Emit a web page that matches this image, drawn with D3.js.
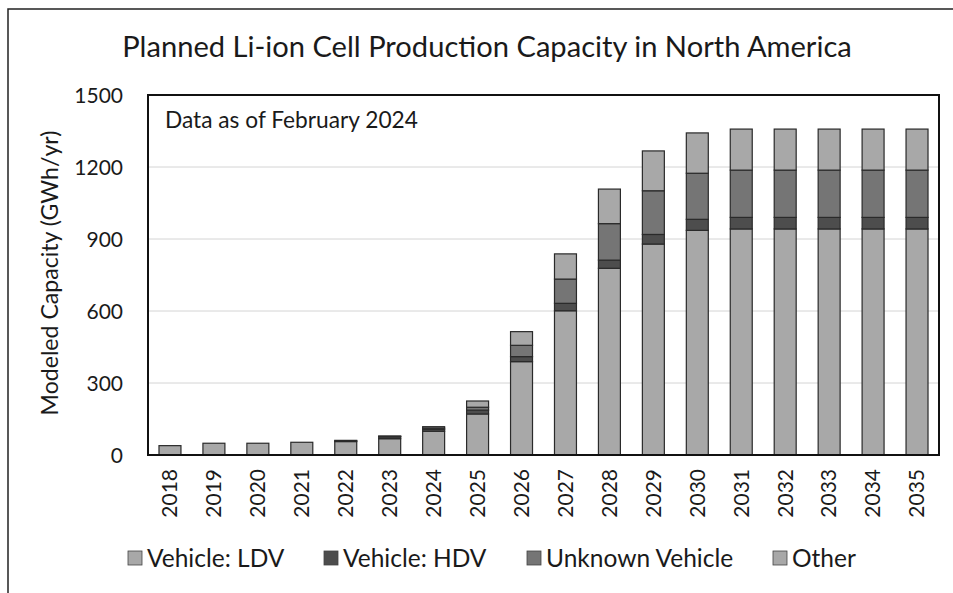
<!DOCTYPE html>
<html><head><meta charset="utf-8">
<script src="https://cdn.jsdelivr.net/npm/d3@7"></script>
<style>body{margin:0;background:#fff}svg{display:block}text{font-family:Lato,"Open Sans",sans-serif;fill:#1a1a1a}</style>
</head><body><svg id="c" width="953" height="593"></svg>
<script>
const years = ["2018","2019","2020","2021","2022","2023","2024","2025","2026","2027","2028","2029","2030","2031","2032","2033","2034","2035"];
const ldv     = [39,49,49,53,56,68,99,171,389,601,778,879,936,942,942,942,942,942];
const hdv     = [0,0,0,0,3,8,8,16,21,31,34,40,46,48,48,48,48,48];
const unknown = [0,0,0,0,0,2,5,12,47,101,152,182,192,197,197,197,197,197];
const other   = [0,0,0,0,2,1,6,26,57,105,144,166,168,171,171,171,171,171];
const seriesNames = ["Vehicle: LDV","Vehicle: HDV","Unknown Vehicle","Other"];
const seriesColors = ["#a8a8a8","#4d4d4d","#757575","#a8a8a8"];
const yTicks = [0,300,600,900,1200,1500];
const title = "Planned Li-ion Cell Production Capacity in North America";
const yLabel = "Modeled Capacity (GWh/yr)";
const note = "Data as of February 2024";

const svg = d3.select("#c");
const m = {l:148, r:939, t:95, b:455};
const keys = ["ldv","hdv","unknown","other"];
const rows = years.map((y,i)=>({year:y, ldv:ldv[i], hdv:hdv[i], unknown:unknown[i], other:other[i]}));
const stack = d3.stack().keys(keys)(rows);

const x = d3.scaleBand().domain(years).range([m.l,m.r]).paddingInner(0.5).paddingOuter(0.25);
const y = d3.scaleLinear().domain([0,1500]).range([m.b,m.t]);

function fit(sel, w){
  const n = sel.node(); const fs = parseFloat(sel.attr("font-size"));
  const cw = n.getComputedTextLength(); sel.attr("font-size", fs*w/cw);
}

svg.append("path").attr("d","M8,593 L8,9 L953,9").attr("fill","none").attr("stroke","#222").attr("stroke-width",1.5);

svg.append("g").selectAll("line").data(yTicks.filter(t=>t>0&&t<1500)).join("line")
  .attr("x1",m.l).attr("x2",m.r).attr("y1",d=>y(d)).attr("y2",d=>y(d))
  .attr("stroke","#d4d4d4").attr("stroke-width",1);

svg.append("g").selectAll("g").data(stack).join("g")
  .attr("fill",(d,i)=>seriesColors[i])
  .selectAll("rect").data(d=>d.filter(p=>p[1]-p[0]>0)).join("rect")
  .attr("x",d=>x(d.data.year)).attr("width",x.bandwidth())
  .attr("y",d=>y(d[1])).attr("height",d=>y(d[0])-y(d[1]))
  .attr("stroke","#2a2a2a").attr("stroke-width",1.2);

svg.append("rect").attr("x",m.l).attr("y",m.t).attr("width",m.r-m.l).attr("height",m.b-m.t)
  .attr("fill","none").attr("stroke","#111").attr("stroke-width",2);

const ya = svg.append("g").attr("transform",`translate(${m.l},0)`)
  .call(d3.axisLeft(y).tickValues(yTicks).tickFormat(d3.format("d")).tickSize(0).tickPadding(25));
ya.select(".domain").remove();
ya.selectAll("text").attr("font-size",21).attr("font-family","Lato").attr("fill","#1a1a1a").attr("dy","0.35em");

const xa = svg.append("g").attr("transform",`translate(0,${m.b})`)
  .call(d3.axisBottom(x).tickSize(0));
xa.select(".domain").remove();
xa.selectAll("text").attr("font-size",21).attr("font-family","Lato").attr("fill","#1a1a1a")
  .attr("text-anchor","end").attr("transform","rotate(-90)").attr("x",-14).attr("y",0).attr("dy","0.35em");

const t = svg.append("text").attr("x",487).attr("y",57).attr("text-anchor","middle").attr("font-size",28).text(title);
fit(t,730);

const yl = svg.append("text").attr("transform","translate(58,273) rotate(-90)").attr("text-anchor","middle").attr("font-size",20).text(yLabel);
fit(yl,285);

const nt = svg.append("text").attr("x",165).attr("y",128).attr("font-size",19).text(note);
fit(nt,253);

const legX = [128,324,527,773];
const lg = svg.append("g").selectAll("g").data(seriesNames).join("g")
  .attr("transform",(d,i)=>`translate(${legX[i]},551)`);
lg.append("rect").attr("width",14).attr("height",14).attr("fill",(d,i)=>seriesColors[i]).attr("stroke","#444").attr("stroke-width",0.8);
lg.append("text").attr("x",19).attr("y",7).attr("dy","0.36em").attr("font-size",24.5).text(d=>d);
</script></body></html>
